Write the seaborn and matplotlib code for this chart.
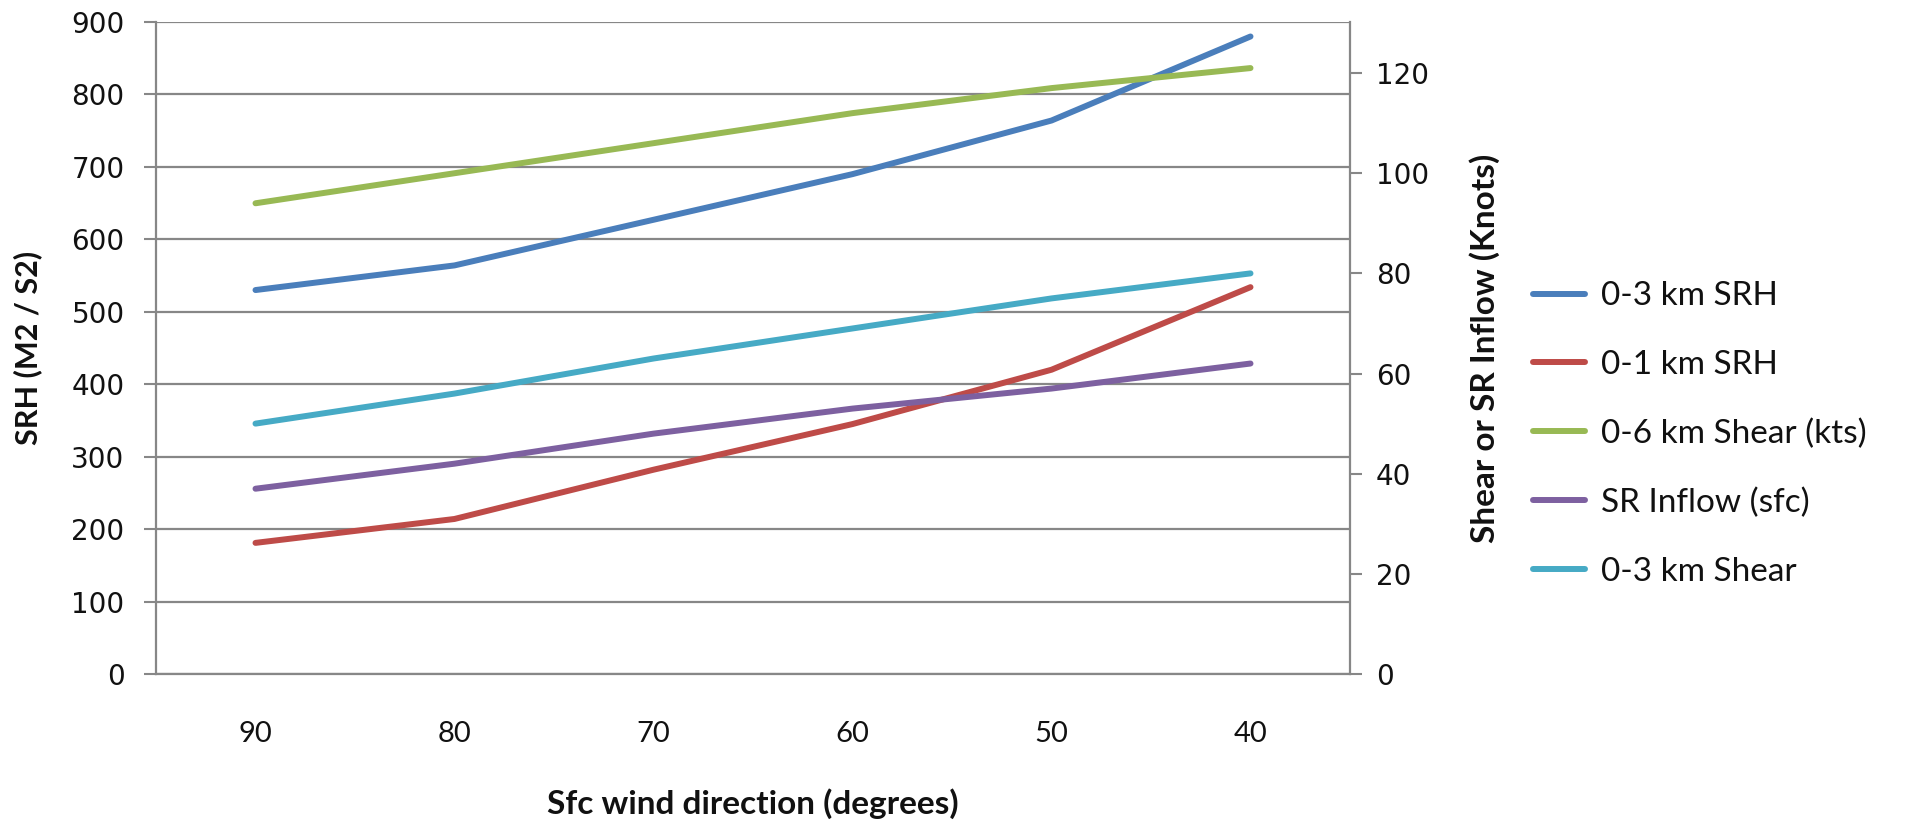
import numpy as np
import pandas as pd
import matplotlib
matplotlib.use("Agg")
import matplotlib.pyplot as plt
from matplotlib.lines import Line2D
import seaborn as sns

# Surface wind direction categories (degrees), plotted left to right
directions = ["90", "80", "70", "60", "50", "40"]

# Storm-relative helicity, left axis (m2/s2)
srh_0_3 = [530, 564, 627, 690, 764, 880]
srh_0_1 = [181, 214, 282, 345, 420, 534]

# Shear / inflow, right axis (knots)
shear_0_6 = [94, 100, 106, 112, 117, 121]
sr_inflow = [37, 42, 48, 53, 57, 62]
shear_0_3 = [50, 56, 63, 69, 75, 80]

left_names = ["0-3 km SRH", "0-1 km SRH"]
right_names = ["0-6 km Shear (kts)", "SR Inflow (sfc)", "0-3 km Shear"]
legend_order = ["0-3 km SRH", "0-1 km SRH", "0-6 km Shear (kts)", "SR Inflow (sfc)", "0-3 km Shear"]
colors = {
    "0-3 km SRH": "#4A7EBB",
    "0-1 km SRH": "#BE4B48",
    "0-6 km Shear (kts)": "#98B954",
    "SR Inflow (sfc)": "#7D60A0",
    "0-3 km Shear": "#46AAC5",
}

pos = np.arange(len(directions))


def long_frame(names, series):
    rows = []
    for name, vals in zip(names, series):
        for p, d, v in zip(pos, directions, vals):
            rows.append({"pos": p, "direction": d, "value": v, "series": name})
    return pd.DataFrame(rows)


df_left = long_frame(left_names, [srh_0_3, srh_0_1])
df_right = long_frame(right_names, [shear_0_6, sr_inflow, shear_0_3])

sns.set_theme(style="white")
plt.rcParams["font.family"] = ["Lato", "DejaVu Sans"]
plt.rcParams["axes.unicode_minus"] = False

grid_c = "#878787"
text_c = "#111111"
lw = 4.3

fig = plt.figure(figsize=(19.11, 8.22), dpi=100)
W, H = 1911, 822
ax = fig.add_axes([156 / W, 1 - 674 / H, (1350 - 156) / W, (674 - 22) / H])
ax2 = ax.twinx()

line_kw = dict(linewidth=lw, solid_capstyle="round", solid_joinstyle="round", legend=False)
sns.lineplot(data=df_left, x="pos", y="value", hue="series", hue_order=left_names,
             palette=colors, ax=ax, **line_kw)
sns.lineplot(data=df_right, x="pos", y="value", hue="series", hue_order=right_names,
             palette=colors, ax=ax2, **line_kw)

# Axis ranges
ax.set_xlim(-0.5, len(directions) - 0.5)
ax.set_ylim(0, 900)
ax2.set_ylim(0, 130.2)
ax.set_yticks(np.arange(0, 901, 100))
ax2.set_yticks(np.arange(0, 121, 20))

# Category labels centered, tick marks on category boundaries
ax.set_xticks(pos)
ax.set_xticklabels(directions)
ax.set_xticks(np.arange(-0.5, len(directions), 1.0), minor=True)
ax.tick_params(axis="x", which="major", length=0, pad=34, labelsize=21, labelcolor=text_c)
ax.tick_params(axis="x", which="minor", length=8.6, width=1.5, color=grid_c, direction="out")

ax.tick_params(axis="y", which="major", length=8.6, width=1.5, color=grid_c, direction="out",
               pad=14, labelsize=20, labelcolor=text_c, left=True)
ax2.tick_params(axis="y", which="major", length=8.6, width=1.5, color=grid_c, direction="out",
                pad=10, labelsize=20, labelcolor=text_c, right=True)
for lab in ax.get_yticklabels() + ax2.get_yticklabels():
    lab.set_fontfamily("DejaVu Sans")

ax.grid(axis="y", color=grid_c, linewidth=1.6)
ax.grid(axis="x", visible=False)
ax2.grid(False)

for s in ["top", "right"]:
    ax.spines[s].set_visible(False)
for s in ["left", "bottom"]:
    ax.spines[s].set_color(grid_c)
    ax.spines[s].set_linewidth(1.6)
for s in ["top", "left", "bottom"]:
    ax2.spines[s].set_visible(False)
ax2.spines["right"].set_color(grid_c)
ax2.spines["right"].set_linewidth(1.6)

# Axis titles
ax.set_xlabel("Sfc wind direction (degrees)", fontsize=24, fontweight="bold", color=text_c)
ax.set_ylabel("SRH (M2 / S2)", fontsize=22, fontweight="bold", color=text_c)
ax2.set_ylabel("Shear or SR Inflow (Knots)", fontsize=24, fontweight="bold", color=text_c)
ax.xaxis.label.set_va("center")
ax.yaxis.label.set_va("center")
ax2.yaxis.label.set_va("center")
ax.xaxis.set_label_coords(0.5, -0.1994)
ax.yaxis.set_label_coords(-0.1076, 0.5)
ax2.yaxis.set_label_coords(1.113, 0.5)

# Combined legend for both axes
leg_handles = [Line2D([0], [0], color=colors[n], linewidth=lw) for n in legend_order]
fig.legend(leg_handles, legend_order, loc="center left", bbox_to_anchor=(1533 / W, 1 - 434 / H),
           frameon=False, fontsize=24, handlelength=1.56, handletextpad=0.48,
           labelspacing=1.16, borderpad=0, borderaxespad=0, labelcolor=text_c)

fig.savefig("out.png", dpi=100, facecolor="white")
